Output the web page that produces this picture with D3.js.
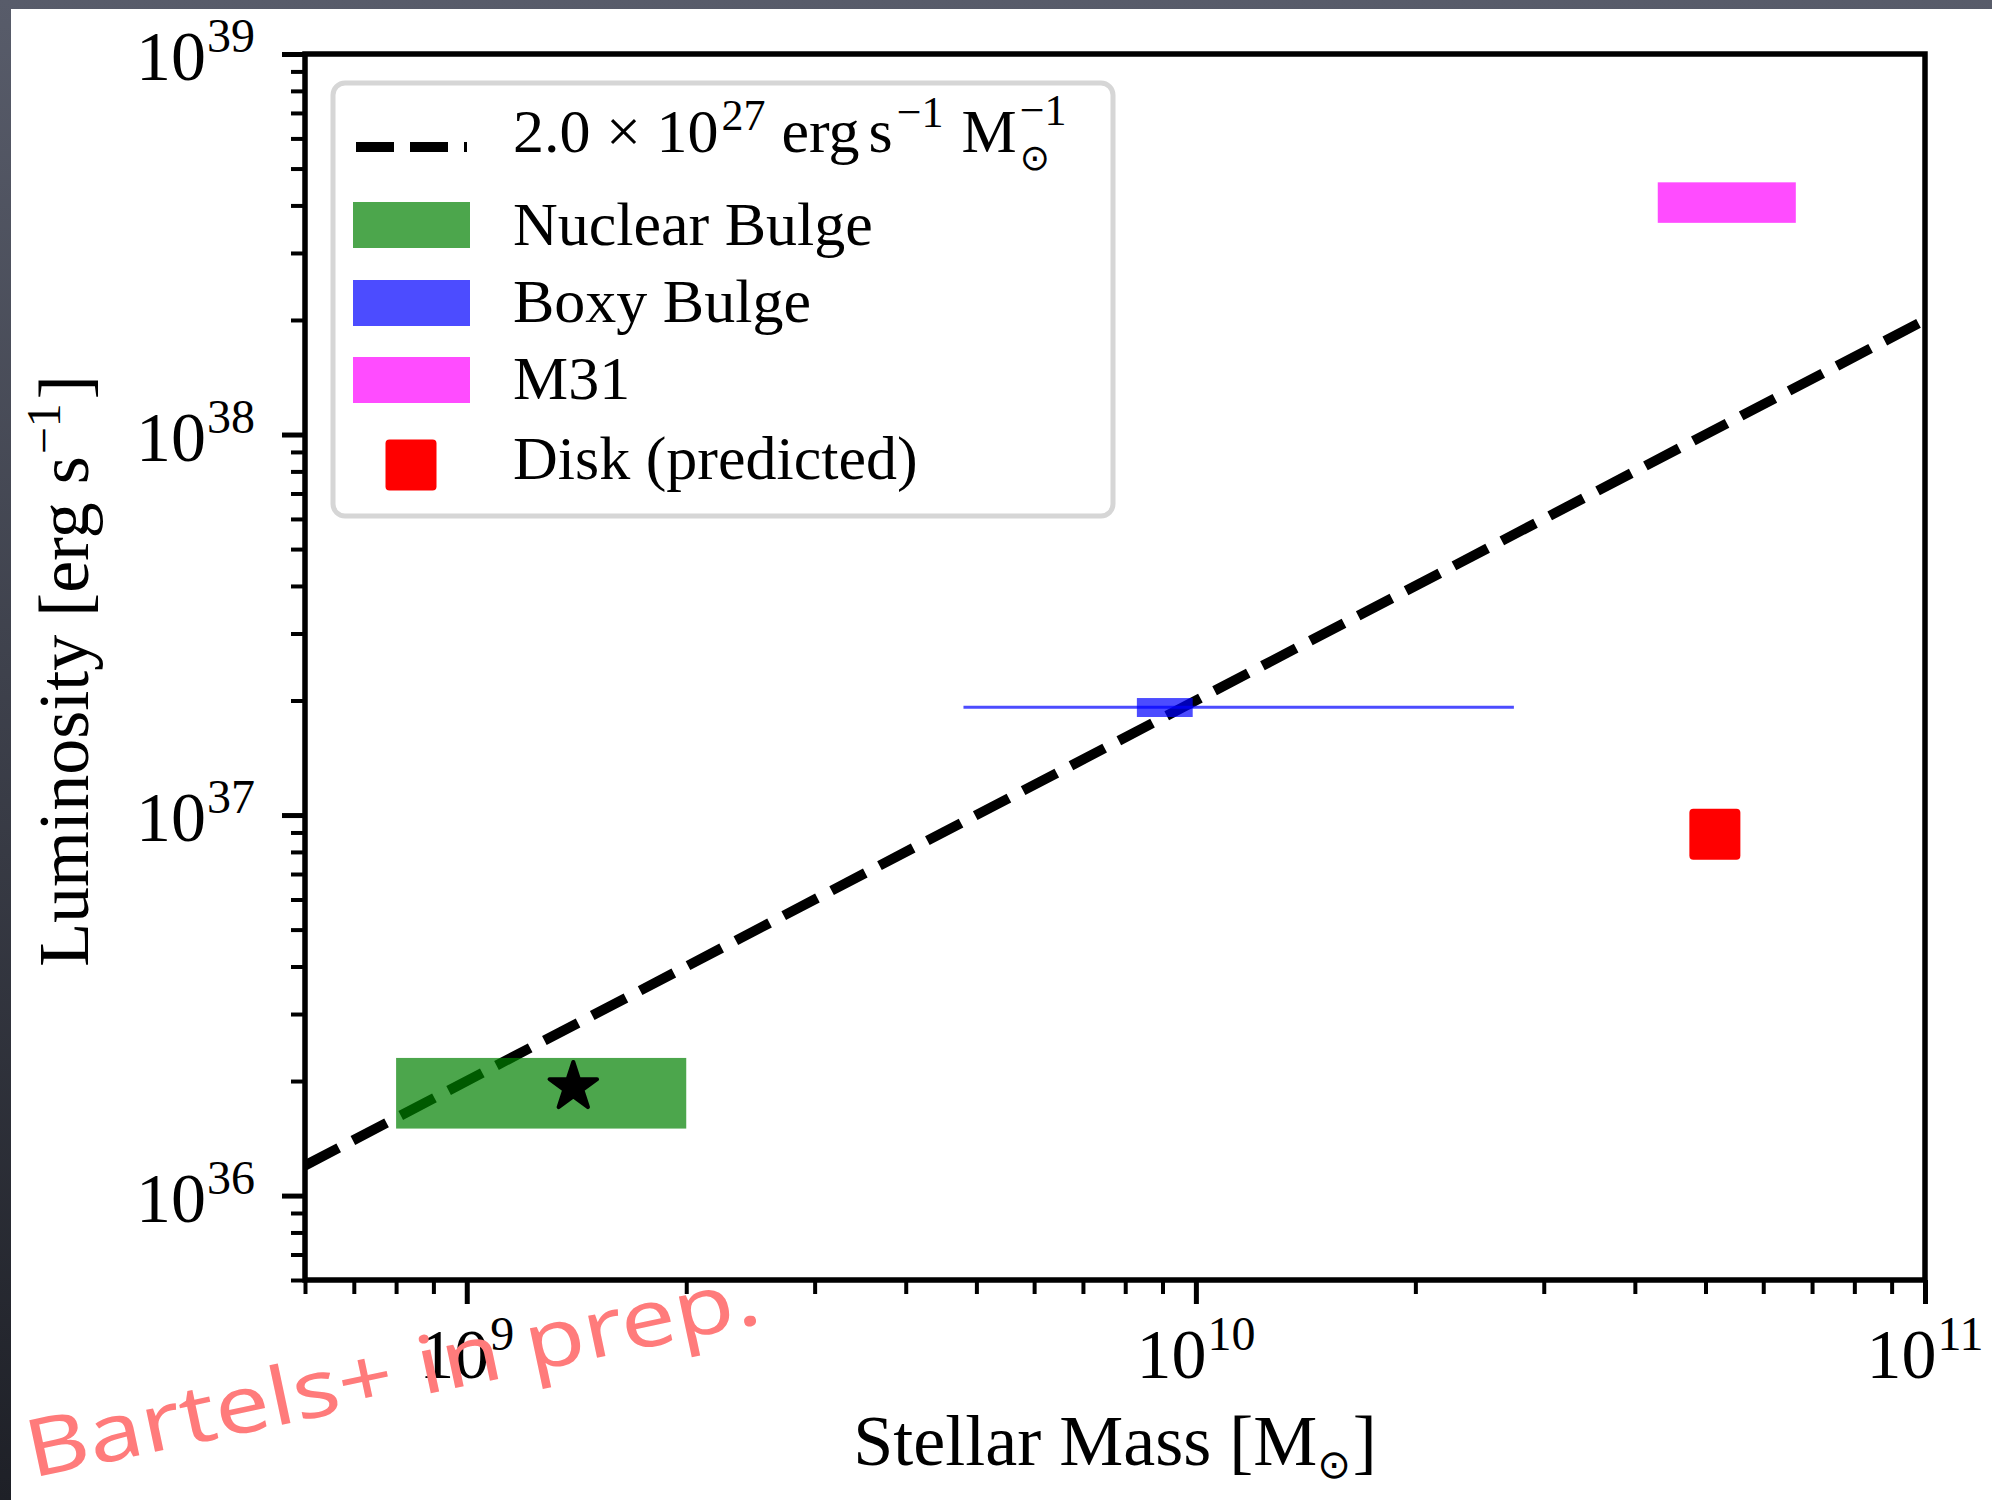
<!DOCTYPE html>
<html>
<head>
<meta charset="utf-8">
<script src="https://cdn.jsdelivr.net/npm/d3@7"></script>
<style>
  html, body { margin: 0; padding: 0; background: #fff; }
  svg { display: block; }
  text { font-family: "Liberation Serif", "DejaVu Serif", serif; fill: #000; }
</style>
</head>
<body>
<div id="chart"></div>
<script>
// ---- data ----
var massDomain = [6e8, 1e11];
var lumDomain = [6e35, 1e39];
var xMajorTicks = [1e9, 1e10, 1e11];
var xTickExp = ["9", "10", "11"];
var yMajorTicks = [1e36, 1e37, 1e38, 1e39];
var yTickExp = ["36", "37", "38", "39"];

var lineNorm = 2.0e27;          // erg s^-1 per solar mass
var lineMass = [6e8, 1e11];

var regionNames = ["Nuclear Bulge", "Boxy Bulge", "M31"];
var regionColors = ["green", "blue", "magenta"];
var regionMassLo = [8.0e8, 8.3e9, 4.3e10];
var regionMassHi = [2.0e9, 9.9e9, 6.65e10];
var regionLumLo = [1.5e36, 1.81e37, 3.6e38];
var regionLumHi = [2.3e36, 2.03e37, 4.6e38];

var boxyErrMass = [4.8e9, 2.73e10];
var boxyErrLum = [1.92e37, 1.92e37];

var starMass = [1.4e9];
var starLum = [1.93e36];

var diskName = "Disk (predicted)";
var diskMass = [5.15e10];
var diskLum = [8.9e36];

window.addEventListener('DOMContentLoaded', function () {
  drawChart();
});

// places text pieces one after another (super/subscripts), measured in the browser
function mathLabel(parent, parts, x, y, anchor) {
  var g = parent.append("g");
  var cx = 0, lastStart = 0;
  parts.forEach(function (p) {
    var startX = p.stack ? lastStart : cx + (p.gap || 0);
    var t = g.append("text")
      .attr("x", startX)
      .attr("y", p.shift || 0)
      .style("font-size", p.size + "px")
      .text(p.t);
    if (p.font) t.style("font-family", p.font);
    var w = t.node().getComputedTextLength();
    lastStart = startX;
    cx = Math.max(cx, startX + w);
  });
  var off = anchor === "middle" ? -cx / 2 : (anchor === "end" ? -cx : 0);
  g.attr("transform", "translate(" + (x + off) + "," + y + ")");
  return g;
}

function drawChart() {
  var W = 1992, H = 1500;
  var plot = { left: 305, right: 1925, top: 54, bottom: 1280 };

  var svg = d3.select("#chart").append("svg")
    .attr("width", W)
    .attr("height", H);

  // dark frame bits at top / left edge
  var defs = svg.append("defs");
  var grad = defs.append("linearGradient").attr("id", "frameGrad")
    .attr("x1", 0).attr("y1", 0).attr("x2", 0).attr("y2", 1);
  grad.append("stop").attr("offset", "0%").attr("stop-color", "#585c6a");
  grad.append("stop").attr("offset", "100%").attr("stop-color", "#1e2027");
  svg.append("rect").attr("width", W).attr("height", H).attr("fill", "url(#frameGrad)");
  svg.append("rect").attr("x", 11).attr("y", 9).attr("width", W - 11).attr("height", H - 9).attr("fill", "#fff");

  defs.append("clipPath").attr("id", "plotClip")
    .append("rect")
    .attr("x", plot.left).attr("y", plot.top)
    .attr("width", plot.right - plot.left).attr("height", plot.bottom - plot.top);

  var x = d3.scaleLog().domain(massDomain).range([plot.left, plot.right]);
  var y = d3.scaleLog().domain(lumDomain).range([plot.bottom, plot.top]);

  var isMajor = function (v) { return Math.abs(Math.log10(v) - Math.round(Math.log10(v))) < 1e-9; };
  var xMinor = x.ticks().filter(function (v) { return !isMajor(v); });
  var yMinor = y.ticks().filter(function (v) { return !isMajor(v); });

  var inner = svg.append("g").attr("clip-path", "url(#plotClip)");

  // scaling relation
  var line = d3.line()
    .x(function (d) { return x(d); })
    .y(function (d) { return y(lineNorm * d); });

  inner.append("path")
    .datum(lineMass)
    .attr("d", line)
    .attr("fill", "none")
    .attr("stroke", "#000")
    .attr("stroke-width", 10)
    .attr("stroke-dasharray", "38,16");

  // boxy bulge horizontal range
  inner.append("line")
    .attr("x1", x(boxyErrMass[0])).attr("x2", x(boxyErrMass[1]))
    .attr("y1", y(boxyErrLum[0])).attr("y2", y(boxyErrLum[1]))
    .attr("stroke", "blue")
    .attr("stroke-opacity", 0.7)
    .attr("stroke-width", 3);

  // shaded regions
  inner.selectAll("rect.region")
    .data(regionNames)
    .enter()
    .append("rect")
    .attr("class", "region")
    .attr("x", function (d, i) { return x(regionMassLo[i]); })
    .attr("width", function (d, i) { return x(regionMassHi[i]) - x(regionMassLo[i]); })
    .attr("y", function (d, i) { return y(regionLumHi[i]); })
    .attr("height", function (d, i) { return y(regionLumLo[i]) - y(regionLumHi[i]); })
    .attr("fill", function (d, i) { return regionColors[i]; })
    .attr("fill-opacity", 0.7);

  // star
  inner.selectAll("path.star")
    .data(starMass)
    .enter()
    .append("path")
    .attr("class", "star")
    .attr("d", d3.symbol().type(d3.symbolStar).size(700))
    .attr("transform", function (d, i) { return "translate(" + x(d) + "," + y(starLum[i]) + ")"; })
    .attr("fill", "#000")
    .attr("stroke", "#000")
    .attr("stroke-width", 4)
    .attr("stroke-linejoin", "round");

  // disk prediction
  var ms = 51;
  inner.selectAll("rect.disk")
    .data(diskMass)
    .enter()
    .append("rect")
    .attr("class", "disk")
    .attr("x", function (d) { return x(d) - ms / 2; })
    .attr("y", function (d, i) { return y(diskLum[i]) - ms / 2; })
    .attr("width", ms).attr("height", ms)
    .attr("rx", 4)
    .attr("fill", "red");

  // ticks
  function styleAxis(g, w) {
    g.select(".domain").remove();
    g.selectAll("line").attr("stroke", "#000").attr("stroke-width", w);
  }
  svg.append("g")
    .attr("transform", "translate(0," + plot.bottom + ")")
    .call(d3.axisBottom(x).tickValues(xMinor).tickSize(14).tickFormat(""))
    .call(styleAxis, 4);
  svg.append("g")
    .attr("transform", "translate(0," + plot.bottom + ")")
    .call(d3.axisBottom(x).tickValues(xMajorTicks).tickSize(24).tickFormat(""))
    .call(styleAxis, 5);
  svg.append("g")
    .attr("transform", "translate(" + plot.left + ",0)")
    .call(d3.axisLeft(y).tickValues(yMinor).tickSize(14).tickFormat(""))
    .call(styleAxis, 4);
  svg.append("g")
    .attr("transform", "translate(" + plot.left + ",0)")
    .call(d3.axisLeft(y).tickValues(yMajorTicks).tickSize(23).tickFormat(""))
    .call(styleAxis, 5);

  // spines
  svg.append("rect")
    .attr("x", plot.left).attr("y", plot.top)
    .attr("width", plot.right - plot.left).attr("height", plot.bottom - plot.top)
    .attr("fill", "none")
    .attr("stroke", "#000")
    .attr("stroke-width", 5.5);

  // tick labels
  xMajorTicks.forEach(function (v, i) {
    mathLabel(svg, [
      { t: "10", size: 70 },
      { t: xTickExp[i], size: 48, shift: -28, gap: 1 }
    ], x(v), 1378, "middle");
  });
  yMajorTicks.forEach(function (v, i) {
    mathLabel(svg, [
      { t: "10", size: 70 },
      { t: yTickExp[i], size: 48, shift: -28, gap: 1 }
    ], 255, y(v) + 26, "end");
  });

  // axis titles
  mathLabel(svg, [
    { t: "Stellar Mass [M", size: 72 },
    { t: "\u2299", size: 40, shift: 13, font: "DejaVu Sans" },
    { t: "]", size: 72, gap: 2 }
  ], (plot.left + plot.right) / 2, 1465, "middle");

  var yTitle = svg.append("g")
    .attr("transform", "translate(88," + ((plot.top + plot.bottom) / 2 + 4) + ") rotate(-90)");
  mathLabel(yTitle, [
    { t: "Luminosity [erg s", size: 72 },
    { t: "\u22121", size: 48, shift: -28, gap: 2 },
    { t: "]", size: 72, gap: 4 }
  ], 0, 0, "middle");

  // legend
  var leg = svg.append("g");
  leg.append("rect")
    .attr("x", 333).attr("y", 83)
    .attr("width", 780).attr("height", 433)
    .attr("rx", 12)
    .attr("fill", "#fff")
    .attr("stroke", "#d6d6d6")
    .attr("stroke-width", 5);

  var rowY = [147, 225, 303, 380, 465];
  var textY = [152, 245, 322, 399, 479];
  var textX = 513;

  leg.append("line")
    .attr("x1", 356).attr("x2", 467)
    .attr("y1", rowY[0]).attr("y2", rowY[0])
    .attr("stroke", "#000")
    .attr("stroke-width", 10)
    .attr("stroke-dasharray", "38,16");
  mathLabel(leg, [
    { t: "2.0 \u00d7 10", size: 62 },
    { t: "27", size: 44, shift: -22, gap: 3 },
    { t: "erg", size: 62, gap: 16 },
    { t: "s", size: 62, gap: 9 },
    { t: "\u22121", size: 44, shift: -25, gap: 4 },
    { t: "M", size: 62, gap: 18 },
    { t: "\u2299", size: 36, shift: 18, font: "DejaVu Sans", gap: 3 },
    { t: "\u22121", size: 44, shift: -27, stack: true }
  ], textX, textY[0], "start");

  regionNames.forEach(function (name, i) {
    leg.append("rect")
      .attr("x", 353).attr("y", rowY[i + 1] - 23)
      .attr("width", 117).attr("height", 46)
      .attr("fill", regionColors[i])
      .attr("fill-opacity", 0.7);
    leg.append("text")
      .attr("x", textX).attr("y", textY[i + 1])
      .style("font-size", "62px")
      .text(name);
  });

  leg.append("rect")
    .attr("x", 411 - ms / 2).attr("y", rowY[4] - ms / 2)
    .attr("width", ms).attr("height", ms)
    .attr("rx", 4)
    .attr("fill", "red");
  leg.append("text")
    .attr("x", textX).attr("y", textY[4])
    .style("font-size", "62px")
    .text(diskName);

  // handwritten note
  svg.append("text")
    .attr("transform", "translate(32,1478) rotate(-12)")
    .attr("textLength", 748)
    .attr("lengthAdjust", "spacingAndGlyphs")
    .style("font-family", "'Noto Sans', 'DejaVu Sans', sans-serif")
    .style("font-size", "80px")
    .style("fill", "#ff7b7b")
    .text("Bartels+ in prep.");
}
</script>
</body>
</html>
